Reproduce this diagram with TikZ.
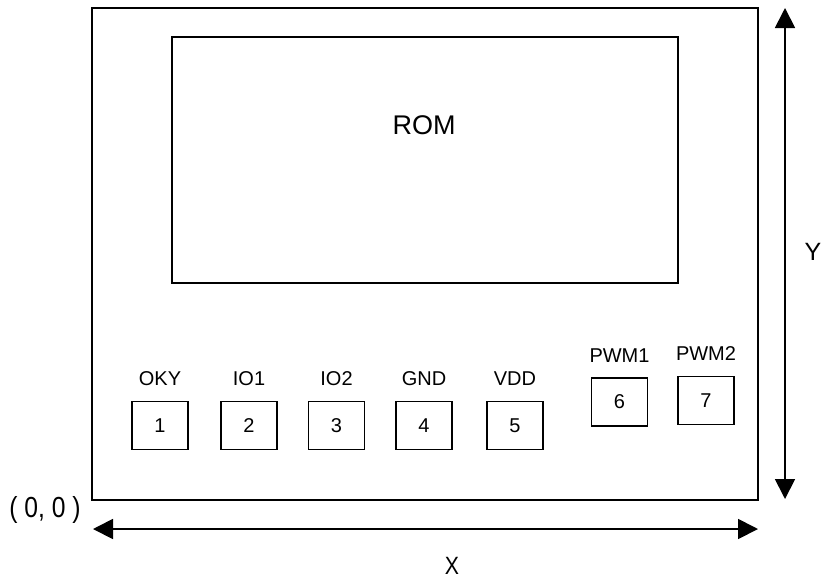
\documentclass[tikz,border=0pt]{standalone}
\usepackage{fontspec}
\setmainfont{Liberation Sans}
\usetikzlibrary{positioning,arrows.meta}
\tikzset{
  pad/.style = {draw, line width=1.4pt, minimum width=56pt, minimum height=48pt,
                inner sep=0pt, font=\fontsize{20}{24}\selectfont},
  padname/.style = {inner sep=0pt, font=\fontsize{20}{24}\selectfont},
  axisname/.style = {inner sep=0pt, font=\fontsize{25}{30}\selectfont},
  dim/.style = {line width=1.8pt,
                {Triangle[length=20pt,width=20pt]}-{Triangle[length=20pt,width=20pt]}}
}

\begin{document}
\begin{tikzpicture}[x=1pt,y=1pt]
	\def \row{-425.5}
	\def \gap{15pt}
	\useasboundingbox (0,0) rectangle (821,-579);

	% Board outline
	\draw[line width=2.5pt] (92,-8) rectangle (758,-500);

	% ROM area
	\draw[line width=2pt] (172,-37) rectangle (678,-283);
	\node[inner sep=0pt, font=\fontsize{27}{32}\selectfont] (rom) at (424,-125) {ROM};

	% Pads 1-5
	\node[pad] (pad1) at (160,\row) {1};
	\node[pad] (pad2) at (249,\row) {2};
	\node[pad] (pad3) at (336.5,\row) {3};
	\node[pad] (pad4) at (424,\row) {4};
	\node[pad] (pad5) at (515,\row) {5};

	% Pads 6-7 (sit a bit higher)
	\node[pad] (pad6) at (619.5,-402) {6};
	\node[pad] (pad7) at (706,-400.5) {7};

	% Pad names
	\node[padname, above=\gap of pad1] (name1) {OKY};
	\node[padname, above=\gap of pad2] (name2) {IO1};
	\node[padname, above=\gap of pad3] (name3) {IO2};
	\node[padname, above=\gap of pad4] (name4) {GND};
	\node[padname, above=\gap of pad5] (name5) {VDD};
	\node[padname, above=\gap of pad6] (name6) {PWM1};
	\node[padname, above=\gap of pad7] (name7) {PWM2};

	% Dimensions
	\coordinate (xleft) at (93,-529);
	\coordinate (xright) at (758,-529);
	\coordinate (ytop) at (785,-8);
	\coordinate (ybottom) at (785,-499);
	\draw[dim] (xleft) -- (xright);
	\draw[dim] (ytop) -- (ybottom);

	\node[axisname] (xname) at (452,-566) {\scalebox{0.85}[1]{X}};
	\node[axisname] (yname) at (813,-252) {Y};
	\node[axisname, font=\fontsize{29}{34}\selectfont] (origin) at (45,-510) {\scalebox{0.85}[1]{( 0, 0 )}};
\end{tikzpicture}
\end{document}
